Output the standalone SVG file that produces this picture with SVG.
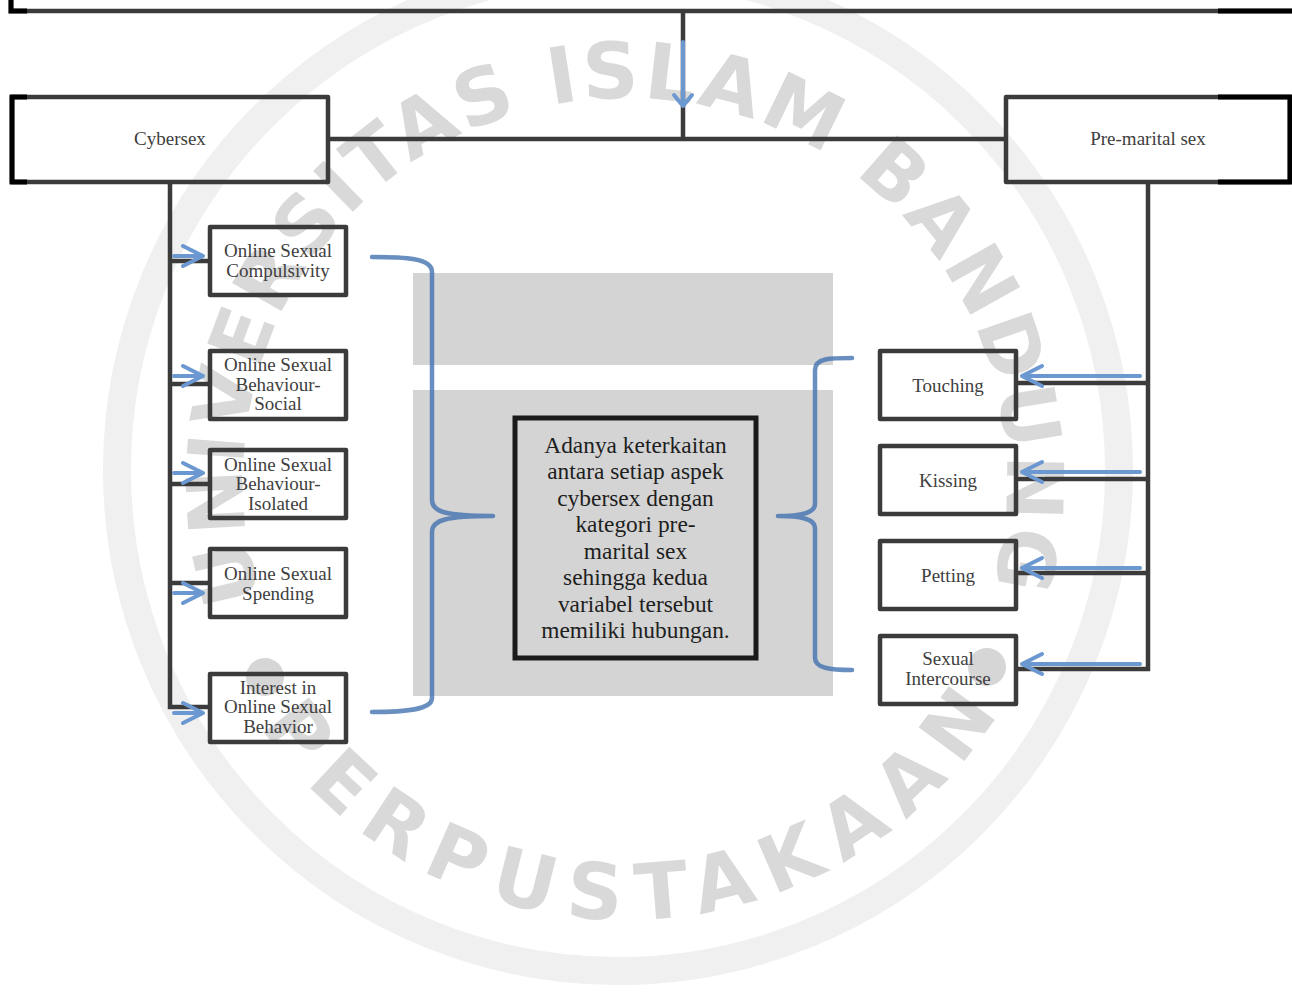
<svg xmlns="http://www.w3.org/2000/svg" width="1292" height="997" viewBox="0 0 1292 997">
<style>
.lbl{font-family:"Liberation Serif","Times New Roman",serif;font-size:19px;fill:#404040;text-anchor:middle}
.ctr{font-family:"Liberation Serif","Times New Roman",serif;font-size:23.4px;fill:#1e1e1e;text-anchor:middle}
.box{fill:none;stroke:#3b3b3b;stroke-width:4.5;stroke-linejoin:round}
.conn{fill:none;stroke:#3b3b3b;stroke-width:4.5}
.blk{fill:none;stroke:#000;stroke-width:5}
.arr{fill:none;stroke:#6b98d0;stroke-width:4;stroke-linecap:round;stroke-linejoin:round}
.brace{fill:none;stroke:#3f6fb0;stroke-opacity:0.78;stroke-width:4.5;stroke-linecap:round;stroke-linejoin:round}
.wm{font-family:"DejaVu Sans",sans-serif;font-weight:bold;font-size:78px;fill:#d9d9d9}
</style>
<defs>
<path id="topArc" d="M261.7,598 A382,382 0 1 1 992.2,585.3"/>
<path id="botArc" d="M260.2,726 A440,440 0 0 0 998.1,713.2"/>
</defs>
<rect width="1292" height="997" fill="#ffffff"/>
<g id="watermark">
<circle cx="618" cy="470" r="501" fill="none" stroke="#f0f0f0" stroke-width="28"/>
<text class="wm"><textPath href="#topArc" textLength="1427" lengthAdjust="spacing">UNIVERSITAS ISLAM BANDUNG</textPath></text>
<text class="wm"><textPath href="#botArc" textLength="875" lengthAdjust="spacing">PERPUSTAKAAN</textPath></text>
<circle cx="265" cy="677" r="19" fill="#d6d6d6"/>
<circle cx="987" cy="667" r="19" fill="#d6d6d6"/>
</g>
<g id="backdrop">
<rect x="413" y="273" width="420" height="92" fill="#d4d4d4"/>
<rect x="413" y="390" width="420" height="306" fill="#d4d4d4"/>
</g>
<g id="connectors">
<path class="conn" d="M683,11 V139 M328,139 H1006"/>
<path class="conn" d="M170,182 V707 H210 M170,261 H210 M170,384 H210 M170,484 H210 M170,583 H210"/>
<path class="conn" d="M1148,182 V669 H1016 M1148,383 H1016 M1148,479 H1016 M1148,573 H1016"/>
<path class="arr" d="M683,42 V106 M674,95 L683,106 L692,95"/>
<path class="arr" d="M174,256 H203 M183,246 L203,256 L183,266"/>
<path class="arr" d="M174,376 H203 M183,366 L203,376 L183,386"/>
<path class="arr" d="M174,473 H203 M183,463 L203,473 L183,483"/>
<path class="arr" d="M174,593 H203 M183,583 L203,593 L183,603"/>
<path class="arr" d="M174,713 H203 M183,703 L203,713 L183,723"/>
<path class="arr" d="M1140,376 H1022 M1042,366 L1022,376 L1042,386"/>
<path class="arr" d="M1140,472 H1022 M1042,462 L1022,472 L1042,482"/>
<path class="arr" d="M1140,568 H1022 M1042,558 L1022,568 L1042,578"/>
<path class="arr" d="M1140,664 H1022 M1042,654 L1022,664 L1042,674"/>
<path class="brace" d="M372,257 C405,257 432,258 432,272 V500 C432,512 446,516 493,516 C446,516 432,520 432,532 V698 C432,710 405,712 372,712"/>
<path class="brace" d="M852,358 C830,358 815,358 815,370 V504 C815,512 804,516 778,516 C804,516 815,520 815,528 V658 C815,668 830,670 852,670"/>
</g>
<g id="frame">
<path class="conn" d="M11,-5 V11 H1297"/>
<path class="blk" d="M11,-5 V11 H27 M1218,11 H1297"/>
</g>
<g id="cybersex">
<rect class="box" x="12" y="97" width="316" height="85"/>
<path class="blk" d="M27,97 H12 V182 H27"/>
<text class="lbl" x="170" y="145">Cybersex</text>
</g>
<g id="premarital">
<rect class="box" x="1006" y="97" width="284" height="85"/>
<path class="blk" d="M1218,97 H1290 V182 H1218"/>
<text class="lbl" x="1148" y="145">Pre-marital sex</text>
</g>
<g id="compulsivity">
<rect class="box" x="210" y="227" width="136" height="68"/>
<text class="lbl" x="278" y="257">Online Sexual</text>
<text class="lbl" x="278" y="276.5">Compulsivity</text>
</g>
<g id="social">
<rect class="box" x="210" y="351" width="136" height="68"/>
<text class="lbl" x="278" y="371">Online Sexual</text>
<text class="lbl" x="278" y="390.5">Behaviour-</text>
<text class="lbl" x="278" y="410">Social</text>
</g>
<g id="isolated">
<rect class="box" x="210" y="450" width="136" height="68"/>
<text class="lbl" x="278" y="471">Online Sexual</text>
<text class="lbl" x="278" y="490">Behaviour-</text>
<text class="lbl" x="278" y="509.5">Isolated</text>
</g>
<g id="spending">
<rect class="box" x="210" y="549" width="136" height="68"/>
<text class="lbl" x="278" y="580">Online Sexual</text>
<text class="lbl" x="278" y="600">Spending</text>
</g>
<g id="interest">
<rect class="box" x="210" y="674" width="136" height="68"/>
<text class="lbl" x="278" y="693.5">Interest in</text>
<text class="lbl" x="278" y="713">Online Sexual</text>
<text class="lbl" x="278" y="733">Behavior</text>
</g>
<g id="center">
<rect x="515" y="418" width="241" height="240" fill="#d4d4d4" stroke="#1a1a1a" stroke-width="5"/>
<text class="ctr" x="635.5" y="452.5">Adanya keterkaitan</text>
<text class="ctr" x="635.5" y="479">antara setiap aspek</text>
<text class="ctr" x="635.5" y="505.5">cybersex dengan</text>
<text class="ctr" x="635.5" y="532">kategori pre-</text>
<text class="ctr" x="635.5" y="558.5">marital sex</text>
<text class="ctr" x="635.5" y="585">sehingga kedua</text>
<text class="ctr" x="635.5" y="611.5">variabel tersebut</text>
<text class="ctr" x="635.5" y="638">memiliki hubungan.</text>
</g>
<g id="touching">
<rect class="box" x="880" y="351" width="136" height="68"/>
<text class="lbl" x="948" y="391.5">Touching</text>
</g>
<g id="kissing">
<rect class="box" x="880" y="446" width="136" height="68"/>
<text class="lbl" x="948" y="486.5">Kissing</text>
</g>
<g id="petting">
<rect class="box" x="880" y="541" width="136" height="68"/>
<text class="lbl" x="948" y="581.5">Petting</text>
</g>
<g id="intercourse">
<rect class="box" x="880" y="636" width="136" height="68"/>
<text class="lbl" x="948" y="665">Sexual</text>
<text class="lbl" x="948" y="685">Intercourse</text>
</g>
</svg>
